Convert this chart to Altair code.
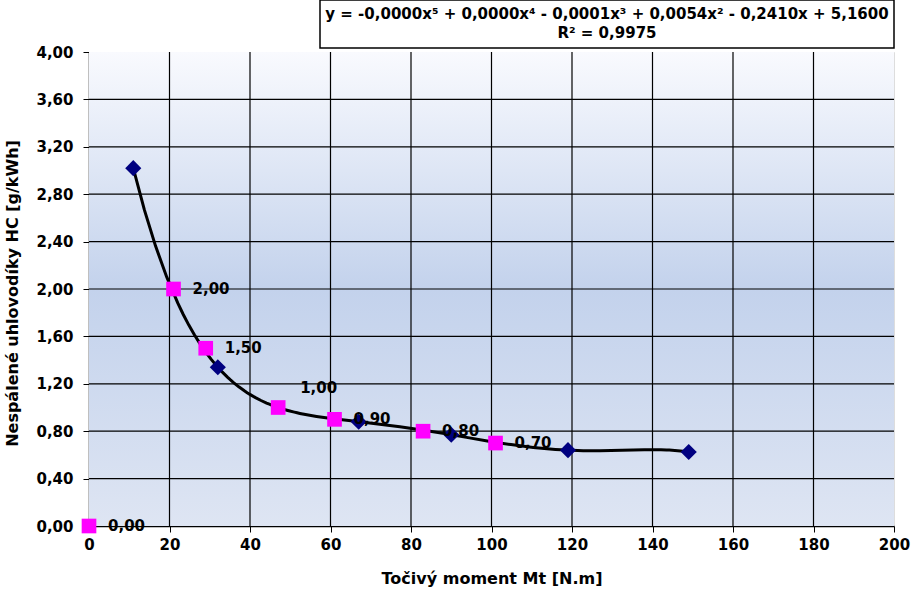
import altair as alt
import pandas as pd

# ---- data ----
moment_blue = [11, 32, 67, 90, 119, 149]
hc_blue = [3.02, 1.34, 0.88, 0.77, 0.64, 0.625]

moment_pink = [0, 21, 29, 47, 61, 83, 101]
hc_pink = [0.00, 2.00, 1.50, 1.00, 0.90, 0.80, 0.70]
pink_labels = ["0,00", "2,00", "1,50", "1,00", "0,90", "0,80", "0,70"]

x_ticks = [0, 20, 40, 60, 80, 100, 120, 140, 160, 180, 200]
y_ticks = [0.0, 0.4, 0.8, 1.2, 1.6, 2.0, 2.4, 2.8, 3.2, 3.6, 4.0]

x_title = "Točivý moment Mt [N.m]"
y_title = "Nespálené uhlovodíky HC [g/kWh]"
eq_line1 = "y = -0,0000x⁵ + 0,0000x⁴ - 0,0001x³ + 0,0054x² - 0,2410x + 5,1600"
eq_line2 = "R² = 0,9975"

W, H = 805, 474
FONT = "DejaVu Sans"

blue_df = pd.DataFrame({"x": moment_blue, "y": hc_blue})
pink_df = pd.DataFrame({"x": moment_pink, "y": hc_pink, "label": pink_labels})
xgrid_df = pd.DataFrame({"x": x_ticks[1:-1]})
ygrid_df = pd.DataFrame({"y": y_ticks[1:-1]})

x_scale = alt.Scale(domain=[x_ticks[0], x_ticks[-1]], nice=False, zero=False)
y_scale = alt.Scale(domain=[y_ticks[0], y_ticks[-1]], nice=False, zero=False)

x_axis = alt.Axis(
    values=x_ticks, format="d", grid=False,
    tickSize=6, tickColor="black", domainColor="black", domainWidth=1.5,
    labelPadding=5, labelFontSize=15, labelFontWeight="bold", labelColor="black",
    labelFont=FONT, labelFlush=False,
    title=x_title, titleFontSize=16, titleFontWeight="bold", titleColor="black",
    titleFont=FONT, titleX=W / 2, titleY=52, titleBaseline="middle", titleAlign="center",
)
y_axis = alt.Axis(
    values=y_ticks, grid=False,
    labelExpr="replace(format(datum.value, '.2f'), '.', ',')",
    tickSize=6, tickColor="black", domainColor="black", domainWidth=1.5,
    labelPadding=10, labelFontSize=15, labelFontWeight="bold", labelColor="black",
    labelFont=FONT, labelFlush=False,
    title=y_title, titleFontSize=16, titleFontWeight="bold", titleColor="black",
    titleFont=FONT, titleX=-77, titleY=H / 2 + 4, titleAngle=270,
    titleBaseline="middle", titleAlign="center",
)

x_enc = alt.X("x:Q", scale=x_scale, axis=x_axis)
y_enc = alt.Y("y:Q", scale=y_scale, axis=y_axis)

one = alt.Data(values=[{"k": 0}])

background = alt.Chart(one).mark_rect(
    color=alt.LinearGradient(
        gradient="linear", x1=0, x2=0, y1=0, y2=1,
        stops=[
            alt.GradientStop(color="#F9FAFE", offset=0),
            alt.GradientStop(color="#C3D2EC", offset=0.5),
            alt.GradientStop(color="#DEE5F3", offset=1),
        ],
    )
).encode(x=alt.value(0), x2=alt.value(W), y=alt.value(0), y2=alt.value(H))

vgrid = alt.Chart(xgrid_df).mark_rule(color="black", strokeWidth=1.2).encode(x=x_enc)
hgrid = alt.Chart(ygrid_df).mark_rule(color="black", strokeWidth=1.2).encode(y=y_enc)

trend = alt.Chart(blue_df).transform_regression(
    "x", "y", method="poly", order=5
).mark_line(color="black", strokeWidth=3).encode(x=x_enc, y=y_enc)

blue_pts = alt.Chart(blue_df).mark_point(
    shape="diamond", filled=True, color="#000080", size=260, opacity=1
).encode(x=x_enc, y=y_enc)

pink_pts = alt.Chart(pink_df).mark_point(
    shape="square", filled=True, color="#FF00FF", size=215, opacity=1
).encode(x=x_enc, y=y_enc)

label_style = dict(align="left", baseline="middle", fontSize=15, fontWeight="bold",
                   font=FONT, color="black")
pink_text = alt.Chart(pink_df).transform_filter(
    "datum.label != '1,00'"
).mark_text(dx=19, **label_style).encode(x=x_enc, y=y_enc, text="label:N")
pink_text_up = alt.Chart(pink_df).transform_filter(
    "datum.label == '1,00'"
).mark_text(dx=22, dy=-20, **label_style).encode(x=x_enc, y=y_enc, text="label:N")

eq_box = alt.Chart(one).mark_rect(
    fill="white", stroke="black", strokeWidth=1.5
).encode(x=alt.value(231), x2=alt.value(805), y=alt.value(-52), y2=alt.value(-4))

eq_text1 = alt.Chart(one).mark_text(
    text=eq_line1, align="center", baseline="middle", fontSize=15, fontWeight="bold",
    font=FONT, color="black"
).encode(x=alt.value(518), y=alt.value(-38))
eq_text2 = alt.Chart(one).mark_text(
    text=eq_line2, align="center", baseline="middle", fontSize=15, fontWeight="bold",
    font=FONT, color="black"
).encode(x=alt.value(518), y=alt.value(-19))

chart = alt.layer(
    background, vgrid, hgrid, trend, blue_pts, pink_pts, pink_text, pink_text_up,
    eq_box, eq_text1, eq_text2
).properties(
    width=W, height=H,
    autosize=alt.AutoSizeParams(type="none"),
    padding={"left": 89, "top": 52, "right": 18, "bottom": 63},
).configure_view(
    stroke="#808080", strokeWidth=2
).configure(background="white")

chart.save("out.html", embed_options={"renderer": "svg", "actions": False})
